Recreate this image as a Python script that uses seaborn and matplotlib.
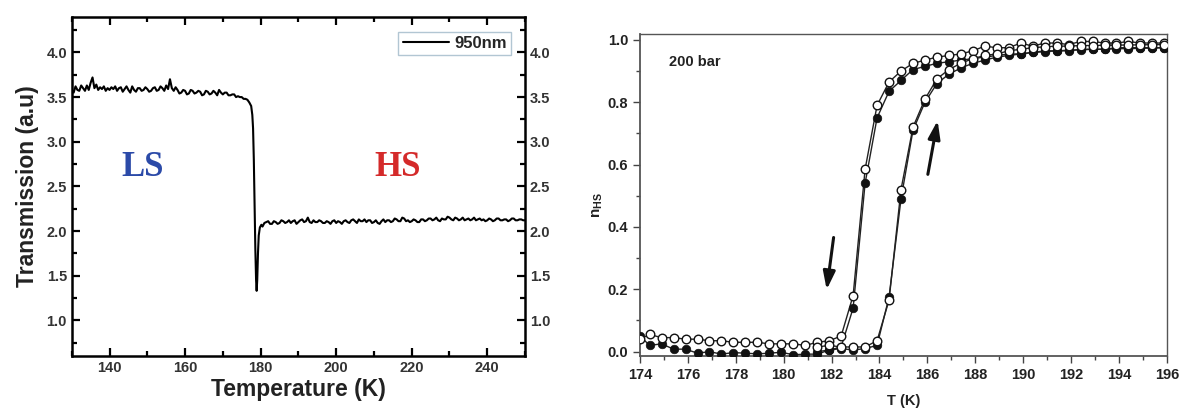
import matplotlib
matplotlib.use("Agg")
import matplotlib.pyplot as plt
import seaborn as sns
import pandas as pd
from matplotlib.ticker import MultipleLocator

sns.set_theme(style="ticks")
plt.rcParams['font.family'] = ['Liberation Sans', 'DejaVu Sans']

# ---------------- Left panel data (transmission trace, 950 nm) ----------------
trace_T = [130.0, 130.5, 131.0, 131.5, 132.0, 132.5, 133.0, 133.5, 134.0, 134.5,
           135.0, 135.5, 136.0, 136.5, 137.0, 137.5, 138.0, 138.5, 139.0, 139.5,
           140.0, 140.5, 141.0, 141.5, 142.0, 142.5, 143.0, 143.5, 144.0, 144.5,
           145.0, 145.5, 146.0, 146.5, 147.0, 147.5, 148.0, 148.5, 149.0, 149.5,
           150.0, 150.5, 151.0, 151.5, 152.0, 152.5, 153.0, 153.5, 154.0, 154.5,
           155.0, 155.5, 156.0, 156.5, 157.0, 157.5, 158.0, 158.5, 159.0, 159.5,
           160.0, 160.5, 161.0, 161.5, 162.0, 162.5, 163.0, 163.5, 164.0, 164.5,
           165.0, 165.5, 166.0, 166.5, 167.0, 167.5, 168.0, 168.5, 169.0, 169.5,
           170.0, 170.5, 171.0, 171.5, 172.0, 172.5, 173.0, 173.5, 174.0, 174.5,
           175.0, 175.5, 176.0, 176.5, 177.0, 177.5, 177.8, 178.0, 178.2, 178.4,
           178.6, 178.8, 178.95, 179.1, 179.3, 179.5, 179.8, 180.2, 180.5, 181.0,
           181.5, 182.0, 182.5, 183.0, 183.5, 184.0, 184.5, 185.0, 185.5, 186.0,
           186.5, 187.0, 187.5, 188.0, 188.5, 189.0, 189.5, 190.0, 190.5, 191.0,
           191.5, 192.0, 192.5, 193.0, 193.5, 194.0, 194.5, 195.0, 195.5, 196.0,
           196.5, 197.0, 197.5, 198.0, 198.5, 199.0, 199.5, 200.0, 200.5, 201.0,
           201.5, 202.0, 202.5, 203.0, 203.5, 204.0, 204.5, 205.0, 205.5, 206.0,
           206.5, 207.0, 207.5, 208.0, 208.5, 209.0, 209.5, 210.0, 210.5, 211.0,
           211.5, 212.0, 212.5, 213.0, 213.5, 214.0, 214.5, 215.0, 215.5, 216.0,
           216.5, 217.0, 217.5, 218.0, 218.5, 219.0, 219.5, 220.0, 220.5, 221.0,
           221.5, 222.0, 222.5, 223.0, 223.5, 224.0, 224.5, 225.0, 225.5, 226.0,
           226.5, 227.0, 227.5, 228.0, 228.5, 229.0, 229.5, 230.0, 230.5, 231.0,
           231.5, 232.0, 232.5, 233.0, 233.5, 234.0, 234.5, 235.0, 235.5, 236.0,
           236.5, 237.0, 237.5, 238.0, 238.5, 239.0, 239.5, 240.0, 240.5, 241.0,
           241.5, 242.0, 242.5, 243.0, 243.5, 244.0, 244.5, 245.0, 245.5, 246.0,
           246.5, 247.0, 247.5, 248.0, 248.5, 249.0, 249.5, 250.0]
trace_val = [3.58, 3.55, 3.62, 3.58, 3.57, 3.63, 3.60, 3.57, 3.63, 3.58,
             3.66, 3.72, 3.60, 3.64, 3.58, 3.61, 3.59, 3.62, 3.57, 3.60,
             3.58, 3.61, 3.59, 3.62, 3.57, 3.60, 3.61, 3.56, 3.59, 3.62,
             3.58, 3.55, 3.62, 3.58, 3.56, 3.60, 3.60, 3.57, 3.58, 3.61,
             3.59, 3.56, 3.57, 3.60, 3.61, 3.57, 3.58, 3.62, 3.60, 3.57,
             3.63, 3.59, 3.70, 3.60, 3.57, 3.61, 3.58, 3.54, 3.55, 3.58,
             3.57, 3.53, 3.54, 3.58, 3.57, 3.54, 3.55, 3.57, 3.56, 3.52,
             3.53, 3.57, 3.56, 3.53, 3.54, 3.57, 3.55, 3.52, 3.58, 3.55,
             3.53, 3.55, 3.55, 3.52, 3.52, 3.53, 3.53, 3.50, 3.51, 3.50,
             3.50, 3.48, 3.48, 3.47, 3.44, 3.40, 3.30, 3.15, 2.80, 2.30,
             1.80, 1.45, 1.33, 1.45, 1.75, 1.95, 2.04, 2.07, 2.05, 2.09,
             2.10, 2.11, 2.08, 2.08, 2.11, 2.10, 2.08, 2.09, 2.12, 2.11,
             2.09, 2.10, 2.12, 2.09, 2.11, 2.12, 2.08, 2.10, 2.12, 2.13,
             2.10, 2.11, 2.15, 2.10, 2.09, 2.12, 2.10, 2.10, 2.12, 2.11,
             2.09, 2.09, 2.11, 2.10, 2.08, 2.11, 2.12, 2.09, 2.11, 2.10,
             2.08, 2.11, 2.12, 2.10, 2.09, 2.12, 2.13, 2.11, 2.09, 2.13,
             2.11, 2.11, 2.13, 2.10, 2.12, 2.12, 2.09, 2.10, 2.12, 2.09,
             2.08, 2.11, 2.13, 2.10, 2.12, 2.12, 2.10, 2.11, 2.14, 2.13,
             2.11, 2.11, 2.15, 2.14, 2.11, 2.12, 2.10, 2.11, 2.13, 2.12,
             2.10, 2.10, 2.13, 2.13, 2.11, 2.12, 2.14, 2.14, 2.12, 2.13,
             2.15, 2.12, 2.11, 2.14, 2.13, 2.13, 2.16, 2.15, 2.13, 2.12,
             2.15, 2.14, 2.12, 2.13, 2.15, 2.12, 2.13, 2.14, 2.12, 2.13,
             2.15, 2.12, 2.13, 2.14, 2.12, 2.13, 2.11, 2.12, 2.14, 2.13,
             2.11, 2.12, 2.14, 2.14, 2.12, 2.12, 2.13, 2.13, 2.11, 2.12,
             2.14, 2.14, 2.12, 2.12, 2.13, 2.13, 2.12, 2.12]

# ---------------- Right panel data (n_HS vs T, 200 bar) ----------------
cool_T = [174.0, 174.4, 174.9, 175.4, 175.9, 176.4, 176.9, 177.4, 177.9, 178.4, 178.9, 179.4,
          179.9, 180.4, 180.9, 181.4, 181.9, 182.4, 182.9, 183.4, 183.9, 184.4, 184.9, 185.4,
          185.9, 186.4, 186.9, 187.4, 187.9, 188.4, 188.9, 189.4, 189.9, 190.4, 190.9, 191.4,
          191.9, 192.4, 192.9, 193.4, 193.9, 194.4, 194.9, 195.4, 195.9]
cool_open = [0.040, 0.055, 0.045, 0.045, 0.040, 0.040, 0.035, 0.035, 0.030, 0.030, 0.030, 0.025,
             0.025, 0.025, 0.020, 0.030, 0.035, 0.050, 0.180, 0.585, 0.790, 0.865, 0.900, 0.925,
             0.935, 0.945, 0.950, 0.955, 0.965, 0.980, 0.975, 0.975, 0.990, 0.980, 0.990, 0.990,
             0.985, 0.995, 0.995, 0.990, 0.990, 0.995, 0.990, 0.990, 0.990]
cool_fill = [0.050, 0.020, 0.025, 0.008, 0.008, -0.005, 0.000, -0.008, -0.003, -0.005, -0.007, -0.005,
             -0.002, -0.010, -0.008, -0.008, 0.005, 0.015, 0.140, 0.540, 0.750, 0.835, 0.870, 0.905,
             0.915, 0.925, 0.930, 0.935, 0.940, 0.945, 0.950, 0.955, 0.955, 0.960, 0.965, 0.965,
             0.965, 0.970, 0.970, 0.970, 0.975, 0.975, 0.975, 0.975, 0.975]

heat_T = [181.4, 181.9, 182.4, 182.9, 183.4, 183.9, 184.4, 184.9, 185.4, 185.9, 186.4, 186.9,
          187.4, 187.9, 188.4, 188.9, 189.4, 189.9, 190.4, 190.9, 191.4, 191.9, 192.4, 192.9,
          193.4, 193.9, 194.4, 194.9, 195.4, 195.9]
heat_open = [0.015, 0.020, 0.015, 0.015, 0.015, 0.035, 0.165, 0.520, 0.720, 0.810, 0.875, 0.905,
             0.925, 0.940, 0.950, 0.955, 0.965, 0.970, 0.975, 0.978, 0.980, 0.980, 0.982, 0.982,
             0.983, 0.983, 0.984, 0.984, 0.985, 0.985]
heat_fill = [0.000, 0.005, 0.010, 0.005, 0.010, 0.020, 0.175, 0.490, 0.710, 0.800, 0.860, 0.890,
             0.910, 0.925, 0.935, 0.945, 0.950, 0.955, 0.960, 0.962, 0.965, 0.967, 0.968, 0.970,
             0.970, 0.972, 0.972, 0.973, 0.974, 0.975]

fig = plt.figure(figsize=(11.82, 4.11), dpi=100)
ax1 = fig.add_axes([0.0607, 0.1338, 0.3835, 0.8255])
ax2 = fig.add_axes([0.5415, 0.1338, 0.4456, 0.7835])

# ---------- Left panel ----------
df_left = pd.DataFrame({"T": trace_T, "val": trace_val})
sns.lineplot(data=df_left, x="T", y="val", ax=ax1, color="black", lw=1.5, label="950nm")
ax1.set_xlim(130, 250)
ax1.set_ylim(0.6, 4.4)
ax1.xaxis.set_major_locator(MultipleLocator(20))
ax1.xaxis.set_minor_locator(MultipleLocator(10))
ax1.set_yticks([1.0, 1.5, 2.0, 2.5, 3.0, 3.5, 4.0])
ax1.yaxis.set_minor_locator(MultipleLocator(0.25))
for s in ax1.spines.values():
    s.set_linewidth(1.8)
    s.set_color("black")
ax1.tick_params(which="both", direction="in", top=True, right=True, labelright=True,
                colors="black", labelcolor="#333333", labelsize=10.5, width=1.6)
ax1.tick_params(which="major", length=6)
ax1.tick_params(which="minor", length=3.5)
plt.setp(ax1.get_xticklabels(), fontweight="bold")
plt.setp(ax1.get_yticklabels(), fontweight="bold")
for t in ax1.yaxis.get_major_ticks():
    t.label2.set_fontweight("bold")
ax1.set_xlabel("Temperature (K)", fontsize=16.5, fontweight="bold", color="#222222", labelpad=2)
ax1.set_ylabel("Transmission (a.u)", fontsize=16.5, fontweight="bold", color="#222222", labelpad=5)
leg = ax1.legend(loc="upper right", frameon=True, fancybox=False, fontsize=12,
                 handlelength=2.8, borderpad=0.25, handletextpad=0.3, borderaxespad=0,
                 bbox_to_anchor=(0.969, 0.955))
leg.get_frame().set_edgecolor("#9fb8c8")
leg.get_frame().set_linewidth(1.0)
for t in leg.get_texts():
    t.set_fontweight("bold")
ax1.text(148.8, 2.71, "LS", color="#2b4aa8", fontsize=25, fontweight="bold",
         family="Liberation Serif", ha="center", va="center")
ax1.text(216.2, 2.71, "HS", color="#d42a2a", fontsize=25, fontweight="bold",
         family="Liberation Serif", ha="center", va="center")

# ---------- Right panel ----------
lc = "#222222"
ax2.plot(cool_T, cool_fill, color=lc, lw=1.0, zorder=2)
ax2.plot(cool_T, cool_open, color=lc, lw=1.0, zorder=2)
ax2.plot(heat_T, heat_fill, color=lc, lw=1.0, zorder=2)
ax2.plot(heat_T, heat_open, color=lc, lw=1.0, zorder=2)
ms = 38
sns.scatterplot(x=cool_T, y=cool_fill, ax=ax2, color="#111111", edgecolor="#111111", s=ms, zorder=3)
sns.scatterplot(x=heat_T, y=heat_fill, ax=ax2, color="#111111", edgecolor="#111111", s=ms, zorder=3)
sns.scatterplot(x=cool_T, y=cool_open, ax=ax2, color="white", edgecolor="#111111", linewidth=1.0, s=ms, zorder=4)
sns.scatterplot(x=heat_T, y=heat_open, ax=ax2, color="white", edgecolor="#111111", linewidth=1.0, s=ms, zorder=4)
ax2.set_xlim(174, 196)
ax2.set_ylim(-0.014, 1.019)
ax2.xaxis.set_major_locator(MultipleLocator(2))
ax2.xaxis.set_minor_locator(MultipleLocator(1))
ax2.yaxis.set_major_locator(MultipleLocator(0.2))
ax2.yaxis.set_minor_locator(MultipleLocator(0.1))
for s in ax2.spines.values():
    s.set_linewidth(1.0)
    s.set_color("#555555")
ax2.spines["left"].set_linewidth(1.3)
ax2.spines["bottom"].set_linewidth(1.3)
ax2.tick_params(which="both", direction="out", colors="#444444", labelcolor="#222222",
                labelsize=10.5, width=1.0)
ax2.tick_params(which="major", length=5)
ax2.tick_params(which="minor", length=3)
plt.setp(ax2.get_xticklabels() + ax2.get_yticklabels(), fontweight="bold")
ax2.set_xlabel("T (K)", fontsize=10.5, fontweight="bold", color="#222222", labelpad=9)
ax2.set_ylabel("")
fig.text(598 / 1182, 1 - 205 / 411, r"n$_{\mathregular{HS}}$", rotation=90, fontsize=11,
         fontweight="bold", color="#222222", ha="center", va="center")
ax2.text(175.2, 0.915, "200 bar", fontsize=10.5, fontweight="bold", color="#222222")
ax2.annotate("", xy=(181.78, 0.19), xytext=(182.1, 0.375),
             arrowprops=dict(arrowstyle="-|>,head_length=0.9,head_width=0.3", lw=2.2, color="#111111"))
ax2.annotate("", xy=(186.45, 0.75), xytext=(186.0, 0.56),
             arrowprops=dict(arrowstyle="-|>,head_length=0.9,head_width=0.3", lw=2.2, color="#111111"))

fig.savefig("out.png", dpi=100)
